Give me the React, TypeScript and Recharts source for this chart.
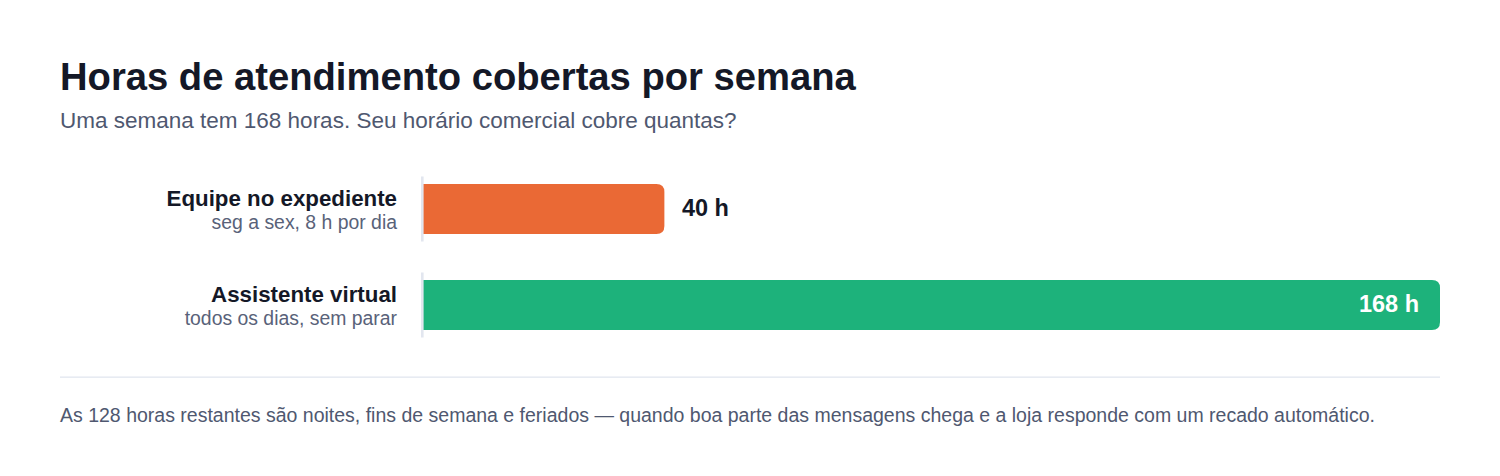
import React from "react";
import { BarChart, Bar, XAxis, YAxis, Cell, LabelList } from "recharts";

const categories = ["Equipe no expediente", "Assistente virtual"];
const descriptions = ["seg a sex, 8 h por dia", "todos os dias, sem parar"];
const hours = [40, 168];
const barColors = ["#EA6935", "#1DB27B"];
const weekHours = 168;

const title = "Horas de atendimento cobertas por semana";
const subtitle = "Uma semana tem 168 horas. Seu horário comercial cobre quantas?";
const footnote =
  "As 128 horas restantes são noites, fins de semana e feriados — quando boa parte das mensagens chega e a loja responde com um recado automático.";

const data = categories.map((name, i) => ({
  name,
  desc: descriptions[i],
  value: hours[i],
}));

const FONT = "'Liberation Sans', Arial, Helvetica, sans-serif";

const CategoryTick = (props: any) => {
  const { x, y, payload, index } = props;
  return (
    <g>
      <text
        x={x}
        y={y - 3.5}
        textAnchor="end"
        fontFamily={FONT}
        fontSize={22.3}
        fontWeight={700}
        fill="#141827"
      >
        {payload.value}
      </text>
      <text
        x={x}
        y={y + 19.5}
        textAnchor="end"
        fontFamily={FONT}
        fontSize={19.4}
        fill="#596279"
      >
        {descriptions[index] ?? data.find((d) => d.name === payload.value)?.desc}
      </text>
    </g>
  );
};

const BarShape = (props: any) => {
  const { x, y, width, height, fill } = props;
  const r = Math.min(8, width / 2, height / 2);
  const d = `M${x},${y} H${x + width - r} Q${x + width},${y} ${x + width},${y + r} V${
    y + height - r
  } Q${x + width},${y + height} ${x + width - r},${y + height} H${x} Z`;
  return (
    <g>
      <path d={d} fill={fill} />
      <rect x={x - 1} y={y - 7.5} width={2.6} height={height + 15} fill="#E2E6EF" />
    </g>
  );
};

const ValueLabel = (props: any) => {
  const { x, y, width, height, value } = props;
  const inside = width > 600;
  const cy = y + height / 2;
  return (
    <text
      x={inside ? x + width - 21 : x + width + 17.5}
      y={cy + 6.5}
      textAnchor={inside ? "end" : "start"}
      fontFamily={FONT}
      fontSize={23.5}
      fontWeight={700}
      fill={inside ? "#FFFFFF" : "#141827"}
    >
      {`${value} h`}
    </text>
  );
};

export default function App() {
  return (
    <div
      style={{
        position: "absolute",
        left: 0,
        top: 0,
        width: 1500,
        height: 476,
        background: "#FFFFFF",
        fontFamily: FONT,
      }}
    >
      <div style={{ position: "absolute", left: 0, top: 0 }}>
        <BarChart
          width={1500}
          height={476}
          data={data}
          layout="vertical"
          margin={{ top: 161, right: 60, bottom: 123, left: 0 }}
          barCategoryGap={46}
        >
          <XAxis type="number" domain={[0, weekHours]} hide />
          <YAxis
            type="category"
            dataKey="name"
            width={422}
            axisLine={false}
            tickLine={false}
            tickSize={0}
            tickMargin={25}
            tick={<CategoryTick />}
          />
          <Bar dataKey="value" barSize={50} shape={<BarShape />} isAnimationActive={false}>
            {data.map((d, i) => (
              <Cell key={d.name} fill={barColors[i]} />
            ))}
            <LabelList dataKey="value" content={<ValueLabel />} />
          </Bar>
        </BarChart>
      </div>
      <svg
        width={1500}
        height={476}
        style={{ position: "absolute", left: 0, top: 0, pointerEvents: "none" }}
      >
        <text x={60} y={90} fontFamily={FONT} fontSize={38.2} fontWeight={700} fill="#141827">
          {title}
        </text>
        <text x={60} y={128.3} fontFamily={FONT} fontSize={22.5} fill="#4F5870">
          {subtitle}
        </text>
        <rect x={60} y={376.5} width={1380} height={1.3} fill="#E2E6EF" />
        <text x={60} y={421.5} fontFamily={FONT} fontSize={19.5} fill="#4F5870">
          {footnote}
        </text>
      </svg>
    </div>
  );
}
